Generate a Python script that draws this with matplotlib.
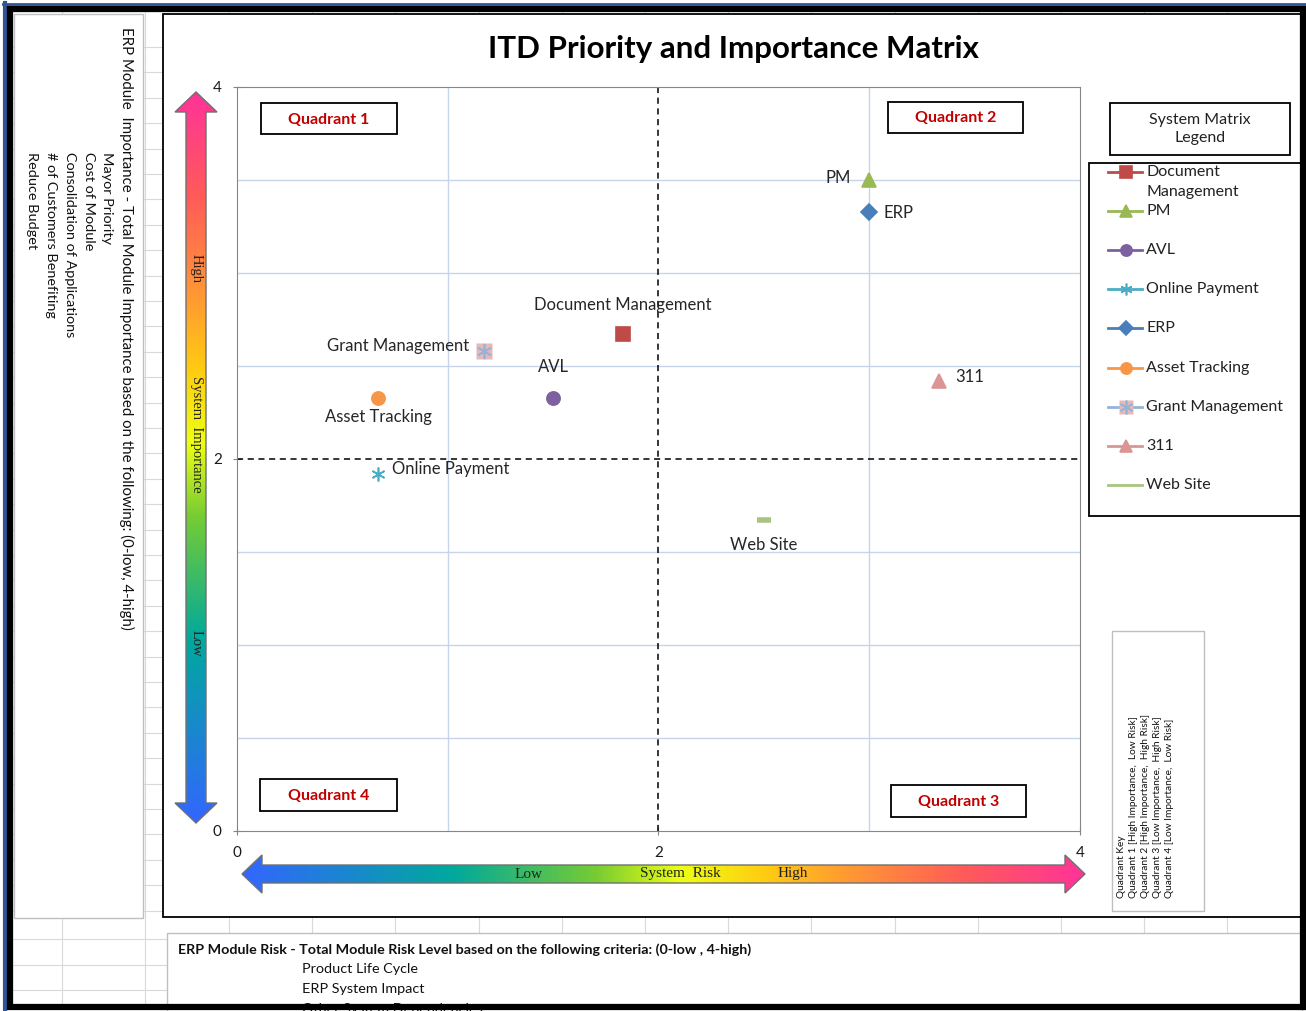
import numpy as np
import matplotlib.pyplot as plt
from matplotlib.patches import Rectangle, Polygon
from matplotlib.colors import LinearSegmentedColormap

plt.rcParams['font.family'] = ['Lato', 'DejaVu Sans']

W, H = 1306, 1011

# series data (x = system risk, y = system importance)
modules = ["Document Management", "PM", "AVL", "Online Payment", "ERP",
           "Asset Tracking", "Grant Management", "311", "Web Site"]
risk = [1.83, 3.0, 1.5, 0.67, 3.0, 0.67, 1.17, 3.33, 2.5]
importance = [2.67, 3.5, 2.33, 1.92, 3.33, 2.33, 2.58, 2.42, 1.67]
colors = ["#be4b48", "#98b954", "#7d60a0", "#4bacc6", "#4a7ebb",
          "#f79646", "#95b3d7", "#d99694", "#a9c47f"]
markers = ["s", "^", "o", (6, 2, 0), "D", "o", (6, 2, 0), "^", "_"]
msizes = [9.5, 10, 9.5, 10, 8, 9.5, 11, 10, 10]
# label placement: dx, dy (pixels), ha
label_pos = [(0, 29, "center"), (-18, 2, "right"), (0, 31, "center"),
             (14, 5, "left"), (14, -1, "left"), (0, -19, "center"),
             (-14, 5, "right"), (16, 4, "left"), (0, -25, "center")]

left_title = "ERP Module  Importance - Total Module Importance based on the following: (0-low, 4-high)"
left_items = ["Mayor Priority", "Cost of Module", "Consolidation of Applications",
              "# of Customers Benefiting", "Reduce Budget"]
bottom_title = "ERP Module Risk - Total Module Risk Level based on the following criteria: (0-low , 4-high)"
bottom_items = ["Product Life Cycle", "ERP System Impact", "Other System Dependencies"]
quad_key = ["Quadrant Key",
            "Quadrant 1 [High Importance,  Low Risk]",
            "Quadrant 2 [High Importance,  High Risk]",
            "Quadrant 3 [Low Importance,  High Risk]",
            "Quadrant 4 [Low Importance,  Low Risk]"]

grad = LinearSegmentedColormap.from_list("rb", [
    (0.0, "#3366ff"), (0.25, "#00a99d"), (0.42, "#77cc33"), (0.52, "#eeff11"),
    (0.62, "#ffcc11"), (0.72, "#ff9933"), (0.86, "#ff5a5a"), (1.0, "#ff3399")])

fig = plt.figure(figsize=(W / 100, H / 100), dpi=100)
bg = fig.add_axes([0, 0, 1, 1])
bg.set_xlim(0, W)
bg.set_ylim(H, 0)
bg.axis("off")

# spreadsheet cells
rows = list(47 + 25.4 * np.arange(35)) + [939, 965, 990]
for y in rows:
    bg.plot([12, 1302], [y, y], color="#d9d9d9", lw=0.8, zorder=0)
for x in [62, 145] + list(229 + 83.2 * np.arange(13)):
    bg.plot([x, x], [12, 1005], color="#d9d9d9", lw=0.8, zorder=0)

# left text box
bg.add_patch(Rectangle((14, 14), 129, 904, facecolor="white", edgecolor="#bfbfbf", lw=1, zorder=1))
bg.text(127, 27, left_title, rotation=-90, rotation_mode="anchor", ha="left", va="center",
        fontsize=10.8, color="#111111", zorder=2)
for x, t in zip([107, 89, 70, 51, 32], left_items):
    bg.text(x, 152, t, rotation=-90, rotation_mode="anchor", ha="left", va="center",
            fontsize=10.4, color="#111111", zorder=2)

# chart area
bg.add_patch(Rectangle((163, 14), 1139, 903, facecolor="white", edgecolor="black", lw=1.3, zorder=1))
bg.text(733, 49, "ITD Priority and Importance Matrix", ha="center", va="center",
        fontsize=22.5, fontweight="bold", color="black", zorder=2)

# bottom text box
bg.add_patch(Rectangle((167, 933), 1135, 90, facecolor="white", edgecolor="#bfbfbf", lw=1, zorder=1))
bg.text(178, 950, bottom_title, ha="left", va="center", fontsize=10.3, fontweight="bold",
        color="#111111", zorder=2)
for y, t in zip([969, 989, 1009], bottom_items):
    bg.text(302, y, t, ha="left", va="center", fontsize=10.4, color="#111111", zorder=2)

# gradient arrows
def grad_arrow(pts, extent, vertical):
    g = np.linspace(0, 1, 256)
    img = grad(g[::-1]).reshape(-1, 1, 4) if vertical else grad(g).reshape(1, -1, 4)
    poly = Polygon(pts, closed=True, facecolor="none", edgecolor="#707070", lw=1, zorder=4)
    bg.add_patch(poly)
    im = bg.imshow(img, extent=extent, aspect="auto", origin="upper", zorder=3)
    im.set_clip_path(poly)

grad_arrow([(196, 92), (217, 112), (206, 112), (206, 803), (217, 803), (196, 823),
            (175, 803), (186, 803), (186, 112), (175, 112)], (175, 217, 823, 92), True)
grad_arrow([(242, 874), (262, 855), (262, 865), (1065, 865), (1065, 855), (1085, 874),
            (1065, 893), (1065, 883), (262, 883), (262, 893)], (242, 1085, 893, 855), False)
for y, t in [(268, "High"), (434, "System  Importance"), (643, "Low")]:
    bg.text(196, y, t, rotation=-90, ha="center", va="center", fontsize=10.5,
            family="Liberation Serif", color="#222222", zorder=5)
for x, t in [(529, "Low"), (680, "System  Risk"), (793, "High")]:
    bg.text(x, 874, t, ha="center", va="center", fontsize=11,
            family="Liberation Serif", color="#222222", zorder=5)

bg.set_xlim(0, W)
bg.set_ylim(H, 0)

# quadrant labels
for (x0, y0, x1, y1), t in [((261, 103, 397, 134), "Quadrant 1"), ((888, 102, 1023, 133), "Quadrant 2"),
                            ((891, 785, 1026, 817), "Quadrant 3"), ((260, 779, 397, 811), "Quadrant 4")]:
    bg.add_patch(Rectangle((x0, y0), x1 - x0, y1 - y0, facecolor="white", edgecolor="black",
                           lw=1.3, zorder=6))
    bg.text((x0 + x1) / 2, (y0 + y1) / 2 + 1, t, ha="center", va="center", fontsize=11.5,
            fontweight="bold", color="#c00000", zorder=7)

# legend
bg.add_patch(Rectangle((1110, 103), 180, 52, facecolor="white", edgecolor="black", lw=1.3, zorder=6))
bg.text(1200, 129, "System Matrix\nLegend", ha="center", va="center", fontsize=11.5,
        linespacing=1.45, color="#222222", zorder=7)
bg.add_patch(Rectangle((1089, 163), 213, 353, facecolor="white", edgecolor="black", lw=1.3, zorder=6))
leg_y = [172, 211, 250, 289, 328, 368, 407, 446, 485]
for i, (name, c, m, ms) in enumerate(zip(modules, colors, markers, msizes)):
    y = leg_y[i]
    bg.plot([1108, 1142], [y, y], color=c, lw=2, zorder=7)
    if name == "Grant Management":
        bg.plot(1126, y, marker="s", ms=10, color="#e6b9b8", mec="none", zorder=8)
        bg.plot(1126, y, marker=m, ms=10, color=c, mew=1.2, zorder=9)
    elif name != "Web Site":
        bg.plot(1126, y, marker=m, ms=ms * 0.85, color=c, mew=1.2, zorder=8)
    if i == 0:
        bg.text(1146, y, "Document", ha="left", va="center", fontsize=11.5, color="#222222", zorder=8)
        bg.text(1146, y + 20, "Management", ha="left", va="center", fontsize=11.5,
                color="#222222", zorder=8)
    else:
        bg.text(1146, y, name, ha="left", va="center", fontsize=11.5, color="#222222", zorder=8)

# quadrant key
bg.add_patch(Rectangle((1112, 631), 92, 280, facecolor="white", edgecolor="#bfbfbf", lw=1, zorder=6))
for x, t in zip([1122, 1134, 1146, 1158, 1170], quad_key):
    bg.text(x, 898, t, rotation=90, rotation_mode="anchor", ha="left", va="center",
            fontsize=7.3, color="#111111", zorder=7)

# outer frame
bg.plot([5, 5], [3, H], color="#2f5597", lw=3, zorder=10)
bg.plot([3, W], [4, 4], color="#2f5597", lw=2, zorder=10)
bg.add_patch(Rectangle((10, 9), 1293, 998, facecolor="none", edgecolor="black", lw=4.5, zorder=10))

# scatter plot
ax = fig.add_axes([237 / W, 1 - 831 / H, 843 / W, 744 / H], zorder=5)
ax.set_facecolor("none")
ax.set_xlim(0, 4)
ax.set_ylim(0, 4)
ax.set_xticks([0, 2, 4])
ax.set_yticks([0, 2, 4])
ax.set_xticks([1, 3], minor=True)
ax.set_yticks([0.5, 1, 1.5, 2.5, 3, 3.5], minor=True)
ax.grid(which="minor", color="#c6d5ec", lw=1)
ax.tick_params(which="minor", length=0)
ax.tick_params(which="major", direction="inout", length=6, color="#868686",
               labelsize=11, labelcolor="#1a1a1a", pad=8)
for s in ax.spines.values():
    s.set_color("#868686")
ax.axvline(2, color="black", ls=(0, (4, 3)), lw=1.1)
ax.axhline(2, color="black", ls=(0, (4, 3)), lw=1.1)

for name, x, y, c, m, ms, (dx, dy, ha) in zip(modules, risk, importance, colors, markers,
                                              msizes, label_pos):
    if name == "Grant Management":
        ax.plot(x, y, marker="s", ms=ms, color="#e6b9b8", mec="none", zorder=3)
        ax.plot(x, y, marker=m, ms=ms, color=c, mew=1.2, zorder=4)
    elif name == "Web Site":
        ax.plot(x, y, marker=m, ms=ms, color=c, mew=4, zorder=3)
    else:
        ax.plot(x, y, marker=m, ms=ms, color=c, mew=1.2, zorder=3)
    ax.annotate(name, (x, y), xytext=(dx, dy), textcoords="offset pixels", ha=ha,
                va="center", fontsize=12, color="#262626", zorder=5)

fig.savefig("out.png", dpi=100)
